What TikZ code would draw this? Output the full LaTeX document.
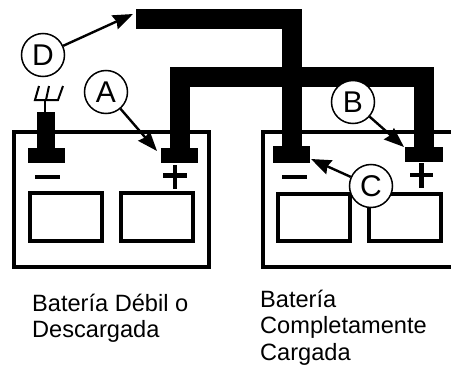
\documentclass[tikz,border=0pt]{standalone}
\usepackage{fontspec}
\setmainfont{Liberation Sans}
\usetikzlibrary{arrows.meta}
\tikzset{
  x=1pt,y=-1pt,
  outline/.style={draw=black,line width=4pt,fill=none},
  cell/.style={draw=black,line width=4pt,fill=white},
  wire/.style={draw=black,line width=20pt,line cap=butt,line join=miter},
  sign/.style={draw=black,line width=4.5pt},
  fork/.style={draw=black,line width=2pt},
  callout/.style={circle,draw=black,line width=1.5pt,fill=white,minimum size=43pt,inner sep=0pt,font=\fontsize{30}{30}\selectfont},
  pointer/.style={draw=black,line width=2.4pt,-{Stealth[length=20pt,width=15pt,inset=2pt]}},
  caption/.style={anchor=north west,align=left,inner sep=0pt,font=\fontsize{23.6}{26.3}\selectfont}
}
\begin{document}
\begin{tikzpicture}
\useasboundingbox (0,0) rectangle (451,367);
\fill[white] (0,0) rectangle (451,367);
% batteries
\draw[outline] (14,132) -- (209,132) -- (209,267) -- (14,267) -- cycle;
\draw[outline] (461,132) -- (263,132) -- (263,267) -- (461,267);
\draw[cell] (30,193) rectangle (102,241);
\draw[cell] (121,193) rectangle (193,241);
\draw[cell] (278,194) rectangle (350,241);
\draw[cell] (369,194) rectangle (441,241);
% wires
\draw[wire] (136,19) -- (292,19) -- (292,150);
\draw[wire] (180,150) -- (180,77) -- (424,77) -- (424,150);
% clamps
\fill[black] (28,148) rectangle (65,163);
\fill[black] (37,112) rectangle (55,150);
\fill[black] (161,148) rectangle (198,163);
\fill[black] (273,146) rectangle (310,163);
\fill[black] (405,147) rectangle (443,162);
% sparks
\draw[fork] (45,112) -- (45,100);
\draw[fork] (39,86) -- (35,100) -- (58,100) -- (63,86);
\draw[fork] (46,100) -- (49,86);
% signs
\draw[sign] (35,177) -- (60,177);
\draw[sign] (163,175.5) -- (187,175.5);
\draw[sign] (175,165) -- (175,189);
\draw[sign] (282,177) -- (307,177);
\draw[sign] (410,175) -- (433,175);
\draw[sign] (421.5,163) -- (421.5,188);
% callouts
\node[callout] (D) at (43,55) {D};
\node[callout] (A) at (106,92) {A};
\node[callout] (B) at (353,102) {B};
\node[callout] (C) at (371,186) {C};
\coordinate (Dt) at (133,14);
\coordinate (At) at (157,151);
\coordinate (Bt) at (404,147);
\coordinate (Ct) at (311,159);
\draw[pointer] (D) -- (Dt);
\draw[pointer] (A) -- (At);
\draw[pointer] (B) -- (Bt);
\draw[pointer] (C) -- (Ct);
% captions
\node[caption] (cap1) at (32,294) {Batería Débil o\\Descargada};
\node[caption] (cap2) at (260,290) {Batería\\Completamente\\Cargada};
\end{tikzpicture}
\end{document}
